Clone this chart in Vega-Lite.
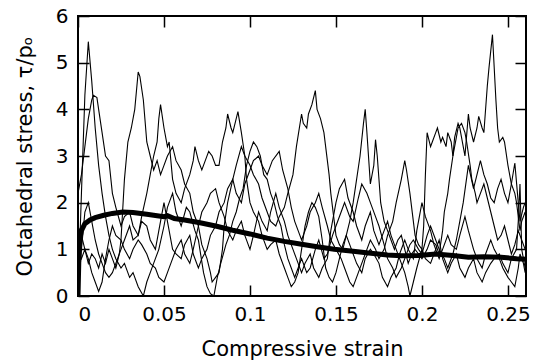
{
"$schema":"https://vega.github.io/schema/vega-lite/v6.json",
"width":448,"height":280,
"autosize":"none",
"padding":{"left":78,"top":16,"right":12,"bottom":67},
"config":{"font":"DejaVu Sans","view":{"stroke":"black","strokeWidth":2},
"axis":{"grid":false,"domain":false,"tickColor":"black","tickWidth":1.5,"tickSize":-11,"labelFont":"DejaVu Sans","labelFontSize":20,"labelColor":"black","titleFont":"DejaVu Sans","titleFontSize":21,"titleFontWeight":"normal","titleColor":"black"}},
"datasets":{
"thin":[
{"s":"a","x":0,"y":0},{"s":"a","x":0.002,"y":2.2},{"s":"a","x":0.004,"y":4.3},{"s":"a","x":0.006,"y":5.45},{"s":"a","x":0.008,"y":4.6},{"s":"a","x":0.01,"y":3.6},{"s":"a","x":0.012,"y":2.8},{"s":"a","x":0.014,"y":2.2},{"s":"a","x":0.016,"y":1.7},{"s":"a","x":0.018,"y":1.3},{"s":"a","x":0.02,"y":1.0},{"s":"a","x":0.022,"y":0.8},{"s":"a","x":0.025,"y":0.6},{"s":"a","x":0.027,"y":0.7},{"s":"a","x":0.03,"y":0.4},{"s":"a","x":0.032,"y":0.5},{"s":"a","x":0.035,"y":0.2},{"s":"a","x":0.038,"y":0.0},{"s":"a","x":0.04,"y":0.3},{"s":"a","x":0.042,"y":0.5},{"s":"a","x":0.045,"y":0.8},{"s":"a","x":0.047,"y":1.0},{"s":"a","x":0.05,"y":1.5},{"s":"a","x":0.052,"y":1.9},{"s":"a","x":0.055,"y":2.2},{"s":"a","x":0.057,"y":1.8},{"s":"a","x":0.06,"y":1.5},{"s":"a","x":0.063,"y":1.9},{"s":"a","x":0.065,"y":1.8},{"s":"a","x":0.068,"y":1.4},{"s":"a","x":0.07,"y":1.2},{"s":"a","x":0.073,"y":0.5},{"s":"a","x":0.075,"y":0.2},{"s":"a","x":0.077,"y":0.05},{"s":"a","x":0.079,"y":0.0},{"s":"a","x":0.081,"y":0.4},{"s":"a","x":0.083,"y":0.7},{"s":"a","x":0.086,"y":1.1},{"s":"a","x":0.088,"y":1.3},{"s":"a","x":0.09,"y":1.6},{"s":"a","x":0.092,"y":1.8},{"s":"a","x":0.094,"y":2.1},{"s":"a","x":0.096,"y":2.3},{"s":"a","x":0.098,"y":2.8},{"s":"a","x":0.1,"y":3.1},{"s":"a","x":0.102,"y":3.3},{"s":"a","x":0.104,"y":3.2},{"s":"a","x":0.106,"y":3.0},{"s":"a","x":0.108,"y":2.6},{"s":"a","x":0.11,"y":2.5},{"s":"a","x":0.112,"y":2.2},{"s":"a","x":0.114,"y":2.0},{"s":"a","x":0.116,"y":1.7},{"s":"a","x":0.118,"y":1.5},{"s":"a","x":0.12,"y":1.1},{"s":"a","x":0.122,"y":0.8},{"s":"a","x":0.124,"y":0.6},{"s":"a","x":0.126,"y":0.4},{"s":"a","x":0.128,"y":0.6},{"s":"a","x":0.13,"y":0.8},{"s":"a","x":0.133,"y":0.5},{"s":"a","x":0.135,"y":0.6},{"s":"a","x":0.138,"y":1.0},{"s":"a","x":0.14,"y":1.2},{"s":"a","x":0.143,"y":0.8},{"s":"a","x":0.145,"y":0.9},{"s":"a","x":0.148,"y":1.3},{"s":"a","x":0.15,"y":1.5},{"s":"a","x":0.153,"y":1.8},{"s":"a","x":0.155,"y":2.0},{"s":"a","x":0.158,"y":1.7},{"s":"a","x":0.16,"y":1.6},{"s":"a","x":0.163,"y":2.1},{"s":"a","x":0.165,"y":2.4},{"s":"a","x":0.168,"y":2.2},{"s":"a","x":0.17,"y":2.0},{"s":"a","x":0.173,"y":1.7},{"s":"a","x":0.175,"y":1.5},{"s":"a","x":0.178,"y":1.1},{"s":"a","x":0.18,"y":0.8},{"s":"a","x":0.183,"y":0.6},{"s":"a","x":0.185,"y":0.4},{"s":"a","x":0.188,"y":0.6},{"s":"a","x":0.19,"y":0.8},{"s":"a","x":0.193,"y":1.1},{"s":"a","x":0.195,"y":1.2},{"s":"a","x":0.198,"y":1.0},{"s":"a","x":0.2,"y":0.9},{"s":"a","x":0.203,"y":1.3},{"s":"a","x":0.205,"y":1.5},{"s":"a","x":0.208,"y":1.2},{"s":"a","x":0.21,"y":1.0},{"s":"a","x":0.213,"y":0.8},{"s":"a","x":0.215,"y":0.6},{"s":"a","x":0.218,"y":0.9},{"s":"a","x":0.22,"y":1.2},{"s":"a","x":0.222,"y":1.6},{"s":"a","x":0.224,"y":2.0},{"s":"a","x":0.227,"y":2.8},{"s":"a","x":0.23,"y":2.3},{"s":"a","x":0.232,"y":2.6},{"s":"a","x":0.234,"y":2.9},{"s":"a","x":0.236,"y":2.6},{"s":"a","x":0.238,"y":2.4},{"s":"a","x":0.24,"y":2.1},{"s":"a","x":0.242,"y":2.0},{"s":"a","x":0.244,"y":2.3},{"s":"a","x":0.246,"y":2.5},{"s":"a","x":0.248,"y":2.2},{"s":"a","x":0.25,"y":2.0},{"s":"a","x":0.252,"y":2.4},{"s":"a","x":0.254,"y":2.85},{"s":"a","x":0.256,"y":2.0},{"s":"a","x":0.257,"y":1.6},{"s":"a","x":0.259,"y":1.9},{"s":"a","x":0.26,"y":2.0},
{"s":"b","x":0,"y":2.2},{"s":"b","x":0.002,"y":2.6},{"s":"b","x":0.004,"y":3.2},{"s":"b","x":0.006,"y":3.8},{"s":"b","x":0.008,"y":4.2},{"s":"b","x":0.009,"y":4.3},{"s":"b","x":0.011,"y":4.25},{"s":"b","x":0.012,"y":4.0},{"s":"b","x":0.014,"y":3.5},{"s":"b","x":0.016,"y":3.0},{"s":"b","x":0.018,"y":2.9},{"s":"b","x":0.02,"y":2.2},{"s":"b","x":0.022,"y":1.9},{"s":"b","x":0.025,"y":1.5},{"s":"b","x":0.027,"y":1.7},{"s":"b","x":0.03,"y":1.8},{"s":"b","x":0.032,"y":1.5},{"s":"b","x":0.035,"y":1.3},{"s":"b","x":0.037,"y":1.6},{"s":"b","x":0.04,"y":1.5},{"s":"b","x":0.042,"y":1.2},{"s":"b","x":0.045,"y":1.0},{"s":"b","x":0.047,"y":1.4},{"s":"b","x":0.05,"y":2.0},{"s":"b","x":0.052,"y":1.6},{"s":"b","x":0.055,"y":1.0},{"s":"b","x":0.057,"y":0.9},{"s":"b","x":0.06,"y":0.8},{"s":"b","x":0.062,"y":1.1},{"s":"b","x":0.065,"y":1.3},{"s":"b","x":0.067,"y":0.9},{"s":"b","x":0.07,"y":0.6},{"s":"b","x":0.072,"y":0.8},{"s":"b","x":0.075,"y":1.0},{"s":"b","x":0.077,"y":1.3},{"s":"b","x":0.08,"y":1.5},{"s":"b","x":0.082,"y":1.8},{"s":"b","x":0.085,"y":2.0},{"s":"b","x":0.087,"y":2.3},{"s":"b","x":0.09,"y":2.5},{"s":"b","x":0.092,"y":2.2},{"s":"b","x":0.095,"y":2.0},{"s":"b","x":0.097,"y":2.4},{"s":"b","x":0.1,"y":2.7},{"s":"b","x":0.102,"y":2.9},{"s":"b","x":0.105,"y":3.0},{"s":"b","x":0.107,"y":2.8},{"s":"b","x":0.11,"y":2.6},{"s":"b","x":0.113,"y":2.9},{"s":"b","x":0.117,"y":3.1},{"s":"b","x":0.119,"y":2.7},{"s":"b","x":0.122,"y":2.3},{"s":"b","x":0.124,"y":1.9},{"s":"b","x":0.126,"y":1.6},{"s":"b","x":0.128,"y":1.4},{"s":"b","x":0.13,"y":1.2},{"s":"b","x":0.133,"y":1.5},{"s":"b","x":0.135,"y":1.8},{"s":"b","x":0.138,"y":2.0},{"s":"b","x":0.14,"y":2.2},{"s":"b","x":0.142,"y":1.9},{"s":"b","x":0.145,"y":1.5},{"s":"b","x":0.147,"y":1.2},{"s":"b","x":0.15,"y":1.0},{"s":"b","x":0.153,"y":0.8},{"s":"b","x":0.155,"y":0.6},{"s":"b","x":0.158,"y":0.3},{"s":"b","x":0.16,"y":0.2},{"s":"b","x":0.163,"y":0.5},{"s":"b","x":0.165,"y":0.7},{"s":"b","x":0.168,"y":1.0},{"s":"b","x":0.17,"y":1.2},{"s":"b","x":0.173,"y":1.0},{"s":"b","x":0.175,"y":0.8},{"s":"b","x":0.178,"y":1.0},{"s":"b","x":0.18,"y":1.3},{"s":"b","x":0.183,"y":1.6},{"s":"b","x":0.185,"y":2.0},{"s":"b","x":0.188,"y":2.5},{"s":"b","x":0.19,"y":2.9},{"s":"b","x":0.191,"y":2.7},{"s":"b","x":0.193,"y":2.2},{"s":"b","x":0.195,"y":1.6},{"s":"b","x":0.196,"y":1.3},{"s":"b","x":0.198,"y":1.1},{"s":"b","x":0.2,"y":1.0},{"s":"b","x":0.201,"y":1.5},{"s":"b","x":0.202,"y":2.6},{"s":"b","x":0.203,"y":3.5},{"s":"b","x":0.205,"y":3.2},{"s":"b","x":0.206,"y":3.3},{"s":"b","x":0.208,"y":3.5},{"s":"b","x":0.209,"y":3.6},{"s":"b","x":0.211,"y":3.3},{"s":"b","x":0.212,"y":3.4},{"s":"b","x":0.214,"y":3.2},{"s":"b","x":0.215,"y":3.5},{"s":"b","x":0.217,"y":3.3},{"s":"b","x":0.218,"y":3.0},{"s":"b","x":0.22,"y":3.4},{"s":"b","x":0.221,"y":3.6},{"s":"b","x":0.223,"y":3.7},{"s":"b","x":0.225,"y":3.5},{"s":"b","x":0.226,"y":3.3},{"s":"b","x":0.228,"y":2.8},{"s":"b","x":0.229,"y":2.5},{"s":"b","x":0.231,"y":2.2},{"s":"b","x":0.232,"y":2.0},{"s":"b","x":0.234,"y":2.2},{"s":"b","x":0.236,"y":2.4},{"s":"b","x":0.238,"y":2.1},{"s":"b","x":0.24,"y":1.8},{"s":"b","x":0.242,"y":1.5},{"s":"b","x":0.244,"y":1.2},{"s":"b","x":0.246,"y":1.3},{"s":"b","x":0.248,"y":1.5},{"s":"b","x":0.25,"y":1.2},{"s":"b","x":0.252,"y":0.9},{"s":"b","x":0.254,"y":1.1},{"s":"b","x":0.256,"y":1.4},{"s":"b","x":0.258,"y":1.2},{"s":"b","x":0.26,"y":1.0},
{"s":"c","x":0,"y":1.0},{"s":"c","x":0.002,"y":0.8},{"s":"c","x":0.004,"y":1.0},{"s":"c","x":0.006,"y":0.7},{"s":"c","x":0.008,"y":0.9},{"s":"c","x":0.01,"y":0.8},{"s":"c","x":0.012,"y":0.6},{"s":"c","x":0.014,"y":0.9},{"s":"c","x":0.016,"y":0.7},{"s":"c","x":0.018,"y":1.0},{"s":"c","x":0.02,"y":0.8},{"s":"c","x":0.022,"y":0.6},{"s":"c","x":0.024,"y":0.9},{"s":"c","x":0.025,"y":1.2},{"s":"c","x":0.027,"y":2.5},{"s":"c","x":0.029,"y":3.3},{"s":"c","x":0.031,"y":3.6},{"s":"c","x":0.033,"y":4.0},{"s":"c","x":0.035,"y":4.8},{"s":"c","x":0.036,"y":4.7},{"s":"c","x":0.038,"y":4.2},{"s":"c","x":0.04,"y":3.3},{"s":"c","x":0.042,"y":3.0},{"s":"c","x":0.044,"y":2.7},{"s":"c","x":0.046,"y":2.9},{"s":"c","x":0.048,"y":2.6},{"s":"c","x":0.05,"y":2.8},{"s":"c","x":0.052,"y":3.0},{"s":"c","x":0.055,"y":3.2},{"s":"c","x":0.057,"y":2.9},{"s":"c","x":0.06,"y":2.7},{"s":"c","x":0.062,"y":2.4},{"s":"c","x":0.065,"y":2.2},{"s":"c","x":0.067,"y":1.8},{"s":"c","x":0.07,"y":1.5},{"s":"c","x":0.072,"y":1.1},{"s":"c","x":0.075,"y":0.8},{"s":"c","x":0.077,"y":0.5},{"s":"c","x":0.078,"y":0.3},{"s":"c","x":0.08,"y":0.4},{"s":"c","x":0.082,"y":0.5},{"s":"c","x":0.084,"y":1.0},{"s":"c","x":0.085,"y":1.5},{"s":"c","x":0.087,"y":2.0},{"s":"c","x":0.09,"y":2.5},{"s":"c","x":0.092,"y":2.8},{"s":"c","x":0.095,"y":3.2},{"s":"c","x":0.097,"y":3.0},{"s":"c","x":0.1,"y":2.8},{"s":"c","x":0.102,"y":2.6},{"s":"c","x":0.105,"y":2.4},{"s":"c","x":0.107,"y":2.1},{"s":"c","x":0.11,"y":1.8},{"s":"c","x":0.112,"y":1.6},{"s":"c","x":0.115,"y":1.5},{"s":"c","x":0.117,"y":1.7},{"s":"c","x":0.12,"y":1.9},{"s":"c","x":0.122,"y":2.2},{"s":"c","x":0.125,"y":2.6},{"s":"c","x":0.127,"y":3.2},{"s":"c","x":0.13,"y":3.9},{"s":"c","x":0.131,"y":3.7},{"s":"c","x":0.133,"y":3.6},{"s":"c","x":0.134,"y":3.9},{"s":"c","x":0.136,"y":4.1},{"s":"c","x":0.138,"y":4.4},{"s":"c","x":0.139,"y":4.0},{"s":"c","x":0.141,"y":3.8},{"s":"c","x":0.143,"y":3.5},{"s":"c","x":0.144,"y":3.2},{"s":"c","x":0.146,"y":2.6},{"s":"c","x":0.147,"y":2.2},{"s":"c","x":0.149,"y":1.6},{"s":"c","x":0.15,"y":1.3},{"s":"c","x":0.152,"y":1.1},{"s":"c","x":0.154,"y":1.0},{"s":"c","x":0.156,"y":1.3},{"s":"c","x":0.158,"y":1.6},{"s":"c","x":0.16,"y":2.0},{"s":"c","x":0.162,"y":2.5},{"s":"c","x":0.164,"y":3.0},{"s":"c","x":0.166,"y":3.7},{"s":"c","x":0.167,"y":4.0},{"s":"c","x":0.168,"y":3.5},{"s":"c","x":0.17,"y":2.4},{"s":"c","x":0.172,"y":2.8},{"s":"c","x":0.173,"y":3.35},{"s":"c","x":0.174,"y":3.0},{"s":"c","x":0.176,"y":2.0},{"s":"c","x":0.178,"y":1.6},{"s":"c","x":0.18,"y":1.4},{"s":"c","x":0.182,"y":1.2},{"s":"c","x":0.184,"y":1.0},{"s":"c","x":0.186,"y":1.2},{"s":"c","x":0.188,"y":1.3},{"s":"c","x":0.19,"y":1.0},{"s":"c","x":0.192,"y":0.7},{"s":"c","x":0.194,"y":0.9},{"s":"c","x":0.196,"y":1.0},{"s":"c","x":0.198,"y":0.9},{"s":"c","x":0.2,"y":0.8},{"s":"c","x":0.203,"y":1.0},{"s":"c","x":0.205,"y":1.2},{"s":"c","x":0.208,"y":1.1},{"s":"c","x":0.21,"y":0.9},{"s":"c","x":0.212,"y":1.4},{"s":"c","x":0.213,"y":1.8},{"s":"c","x":0.215,"y":2.2},{"s":"c","x":0.216,"y":2.5},{"s":"c","x":0.218,"y":3.0},{"s":"c","x":0.219,"y":3.4},{"s":"c","x":0.221,"y":3.7},{"s":"c","x":0.222,"y":3.6},{"s":"c","x":0.224,"y":3.2},{"s":"c","x":0.225,"y":3.0},{"s":"c","x":0.227,"y":3.9},{"s":"c","x":0.228,"y":3.6},{"s":"c","x":0.23,"y":3.3},{"s":"c","x":0.232,"y":3.6},{"s":"c","x":0.233,"y":3.85},{"s":"c","x":0.235,"y":3.6},{"s":"c","x":0.236,"y":3.5},{"s":"c","x":0.237,"y":4.0},{"s":"c","x":0.238,"y":4.5},{"s":"c","x":0.239,"y":4.9},{"s":"c","x":0.241,"y":5.6},{"s":"c","x":0.242,"y":4.9},{"s":"c","x":0.243,"y":4.2},{"s":"c","x":0.244,"y":3.6},{"s":"c","x":0.245,"y":3.3},{"s":"c","x":0.247,"y":3.4},{"s":"c","x":0.248,"y":3.3},{"s":"c","x":0.25,"y":2.8},{"s":"c","x":0.252,"y":2.4},{"s":"c","x":0.254,"y":2.2},{"s":"c","x":0.255,"y":2.0},{"s":"c","x":0.257,"y":1.4},{"s":"c","x":0.258,"y":1.6},{"s":"c","x":0.26,"y":1.8},
{"s":"d","x":0,"y":0.0},{"s":"d","x":0.002,"y":1.0},{"s":"d","x":0.004,"y":1.8},{"s":"d","x":0.006,"y":2.0},{"s":"d","x":0.008,"y":1.6},{"s":"d","x":0.01,"y":1.2},{"s":"d","x":0.012,"y":0.9},{"s":"d","x":0.014,"y":0.7},{"s":"d","x":0.016,"y":0.5},{"s":"d","x":0.018,"y":0.4},{"s":"d","x":0.02,"y":0.5},{"s":"d","x":0.022,"y":0.7},{"s":"d","x":0.025,"y":1.0},{"s":"d","x":0.027,"y":1.2},{"s":"d","x":0.03,"y":1.5},{"s":"d","x":0.032,"y":1.2},{"s":"d","x":0.035,"y":1.3},{"s":"d","x":0.037,"y":1.7},{"s":"d","x":0.04,"y":2.2},{"s":"d","x":0.042,"y":2.6},{"s":"d","x":0.044,"y":3.0},{"s":"d","x":0.046,"y":3.3},{"s":"d","x":0.047,"y":3.8},{"s":"d","x":0.048,"y":4.1},{"s":"d","x":0.05,"y":3.6},{"s":"d","x":0.052,"y":3.2},{"s":"d","x":0.053,"y":3.3},{"s":"d","x":0.055,"y":2.5},{"s":"d","x":0.057,"y":2.2},{"s":"d","x":0.06,"y":2.0},{"s":"d","x":0.062,"y":2.3},{"s":"d","x":0.065,"y":2.6},{"s":"d","x":0.067,"y":2.9},{"s":"d","x":0.068,"y":3.2},{"s":"d","x":0.07,"y":2.9},{"s":"d","x":0.072,"y":2.7},{"s":"d","x":0.074,"y":2.9},{"s":"d","x":0.076,"y":3.1},{"s":"d","x":0.078,"y":3.0},{"s":"d","x":0.08,"y":2.8},{"s":"d","x":0.082,"y":2.8},{"s":"d","x":0.084,"y":3.3},{"s":"d","x":0.086,"y":3.6},{"s":"d","x":0.087,"y":3.9},{"s":"d","x":0.089,"y":3.6},{"s":"d","x":0.09,"y":3.5},{"s":"d","x":0.092,"y":3.8},{"s":"d","x":0.093,"y":3.95},{"s":"d","x":0.095,"y":3.5},{"s":"d","x":0.097,"y":3.0},{"s":"d","x":0.098,"y":2.5},{"s":"d","x":0.1,"y":2.0},{"s":"d","x":0.102,"y":1.8},{"s":"d","x":0.105,"y":1.6},{"s":"d","x":0.107,"y":1.3},{"s":"d","x":0.11,"y":1.0},{"s":"d","x":0.112,"y":1.1},{"s":"d","x":0.115,"y":1.2},{"s":"d","x":0.117,"y":0.9},{"s":"d","x":0.12,"y":0.6},{"s":"d","x":0.122,"y":0.4},{"s":"d","x":0.124,"y":0.2},{"s":"d","x":0.126,"y":0.3},{"s":"d","x":0.128,"y":0.5},{"s":"d","x":0.13,"y":1.0},{"s":"d","x":0.132,"y":1.5},{"s":"d","x":0.134,"y":1.8},{"s":"d","x":0.136,"y":2.0},{"s":"d","x":0.138,"y":1.9},{"s":"d","x":0.14,"y":1.7},{"s":"d","x":0.142,"y":1.2},{"s":"d","x":0.144,"y":0.6},{"s":"d","x":0.146,"y":0.4},{"s":"d","x":0.148,"y":0.3},{"s":"d","x":0.15,"y":0.5},{"s":"d","x":0.152,"y":0.8},{"s":"d","x":0.154,"y":1.1},{"s":"d","x":0.156,"y":1.3},{"s":"d","x":0.158,"y":1.1},{"s":"d","x":0.16,"y":0.9},{"s":"d","x":0.162,"y":0.7},{"s":"d","x":0.165,"y":0.5},{"s":"d","x":0.167,"y":0.8},{"s":"d","x":0.17,"y":1.0},{"s":"d","x":0.172,"y":0.9},{"s":"d","x":0.175,"y":0.7},{"s":"d","x":0.177,"y":0.4},{"s":"d","x":0.18,"y":0.2},{"s":"d","x":0.182,"y":0.4},{"s":"d","x":0.185,"y":0.6},{"s":"d","x":0.187,"y":0.9},{"s":"d","x":0.19,"y":1.2},{"s":"d","x":0.192,"y":1.0},{"s":"d","x":0.195,"y":0.8},{"s":"d","x":0.197,"y":1.4},{"s":"d","x":0.2,"y":2.0},{"s":"d","x":0.202,"y":1.7},{"s":"d","x":0.205,"y":1.4},{"s":"d","x":0.207,"y":1.1},{"s":"d","x":0.21,"y":0.8},{"s":"d","x":0.212,"y":1.0},{"s":"d","x":0.215,"y":1.3},{"s":"d","x":0.217,"y":1.1},{"s":"d","x":0.22,"y":1.0},{"s":"d","x":0.222,"y":1.3},{"s":"d","x":0.225,"y":1.7},{"s":"d","x":0.227,"y":1.4},{"s":"d","x":0.23,"y":1.0},{"s":"d","x":0.232,"y":0.8},{"s":"d","x":0.235,"y":0.6},{"s":"d","x":0.237,"y":0.9},{"s":"d","x":0.24,"y":1.2},{"s":"d","x":0.242,"y":1.0},{"s":"d","x":0.245,"y":0.8},{"s":"d","x":0.247,"y":0.6},{"s":"d","x":0.25,"y":0.4},{"s":"d","x":0.252,"y":0.3},{"s":"d","x":0.254,"y":0.2},{"s":"d","x":0.256,"y":0.6},{"s":"d","x":0.257,"y":0.9},{"s":"d","x":0.259,"y":0.7},{"s":"d","x":0.26,"y":0.5},
{"s":"e","x":0,"y":1.5},{"s":"e","x":0.002,"y":1.3},{"s":"e","x":0.004,"y":1.0},{"s":"e","x":0.006,"y":0.8},{"s":"e","x":0.008,"y":0.5},{"s":"e","x":0.01,"y":0.3},{"s":"e","x":0.012,"y":0.1},{"s":"e","x":0.014,"y":0.3},{"s":"e","x":0.016,"y":0.8},{"s":"e","x":0.018,"y":1.2},{"s":"e","x":0.02,"y":1.5},{"s":"e","x":0.022,"y":1.3},{"s":"e","x":0.025,"y":1.2},{"s":"e","x":0.027,"y":1.0},{"s":"e","x":0.03,"y":0.8},{"s":"e","x":0.032,"y":1.0},{"s":"e","x":0.035,"y":1.2},{"s":"e","x":0.037,"y":1.1},{"s":"e","x":0.04,"y":0.9},{"s":"e","x":0.042,"y":0.7},{"s":"e","x":0.045,"y":0.6},{"s":"e","x":0.047,"y":0.4},{"s":"e","x":0.05,"y":0.3},{"s":"e","x":0.052,"y":0.5},{"s":"e","x":0.055,"y":0.8},{"s":"e","x":0.057,"y":1.0},{"s":"e","x":0.06,"y":1.2},{"s":"e","x":0.062,"y":0.9},{"s":"e","x":0.065,"y":0.7},{"s":"e","x":0.067,"y":1.0},{"s":"e","x":0.07,"y":1.5},{"s":"e","x":0.072,"y":1.8},{"s":"e","x":0.075,"y":2.0},{"s":"e","x":0.077,"y":2.2},{"s":"e","x":0.08,"y":2.3},{"s":"e","x":0.082,"y":2.0},{"s":"e","x":0.085,"y":1.7},{"s":"e","x":0.087,"y":1.4},{"s":"e","x":0.09,"y":1.2},{"s":"e","x":0.092,"y":1.4},{"s":"e","x":0.095,"y":1.6},{"s":"e","x":0.097,"y":1.3},{"s":"e","x":0.1,"y":1.0},{"s":"e","x":0.102,"y":1.3},{"s":"e","x":0.105,"y":1.8},{"s":"e","x":0.107,"y":1.6},{"s":"e","x":0.11,"y":1.4},{"s":"e","x":0.112,"y":1.8},{"s":"e","x":0.115,"y":2.2},{"s":"e","x":0.117,"y":1.9},{"s":"e","x":0.12,"y":1.6},{"s":"e","x":0.122,"y":1.3},{"s":"e","x":0.125,"y":1.0},{"s":"e","x":0.127,"y":0.8},{"s":"e","x":0.13,"y":0.5},{"s":"e","x":0.132,"y":0.7},{"s":"e","x":0.135,"y":0.9},{"s":"e","x":0.137,"y":0.6},{"s":"e","x":0.14,"y":0.4},{"s":"e","x":0.142,"y":0.6},{"s":"e","x":0.145,"y":0.8},{"s":"e","x":0.147,"y":1.4},{"s":"e","x":0.15,"y":2.0},{"s":"e","x":0.152,"y":2.3},{"s":"e","x":0.155,"y":2.5},{"s":"e","x":0.157,"y":2.1},{"s":"e","x":0.16,"y":1.8},{"s":"e","x":0.162,"y":1.5},{"s":"e","x":0.165,"y":1.2},{"s":"e","x":0.167,"y":1.5},{"s":"e","x":0.17,"y":1.8},{"s":"e","x":0.172,"y":1.4},{"s":"e","x":0.175,"y":1.1},{"s":"e","x":0.177,"y":1.3},{"s":"e","x":0.18,"y":1.6},{"s":"e","x":0.182,"y":1.3},{"s":"e","x":0.185,"y":1.0},{"s":"e","x":0.187,"y":0.8},{"s":"e","x":0.19,"y":0.5},{"s":"e","x":0.192,"y":0.2},{"s":"e","x":0.193,"y":0.0},{"s":"e","x":0.195,"y":0.3},{"s":"e","x":0.197,"y":0.6},{"s":"e","x":0.2,"y":1.0},{"s":"e","x":0.202,"y":0.8},{"s":"e","x":0.205,"y":0.7},{"s":"e","x":0.207,"y":0.9},{"s":"e","x":0.21,"y":1.2},{"s":"e","x":0.212,"y":0.8},{"s":"e","x":0.215,"y":0.5},{"s":"e","x":0.217,"y":0.7},{"s":"e","x":0.22,"y":0.9},{"s":"e","x":0.222,"y":0.6},{"s":"e","x":0.225,"y":0.4},{"s":"e","x":0.227,"y":0.6},{"s":"e","x":0.23,"y":0.8},{"s":"e","x":0.232,"y":0.5},{"s":"e","x":0.235,"y":0.3},{"s":"e","x":0.237,"y":0.5},{"s":"e","x":0.24,"y":0.7},{"s":"e","x":0.242,"y":0.8},{"s":"e","x":0.245,"y":0.9},{"s":"e","x":0.247,"y":0.7},{"s":"e","x":0.25,"y":0.5},{"s":"e","x":0.252,"y":0.8},{"s":"e","x":0.255,"y":1.0},{"s":"e","x":0.256,"y":1.6},{"s":"e","x":0.257,"y":2.4},{"s":"e","x":0.258,"y":1.0},{"s":"e","x":0.26,"y":0.6}
],
"mean":[
{"x":0,"y":0},{"x":0.0005,"y":0.8},{"x":0.001,"y":1.2},{"x":0.002,"y":1.4},{"x":0.004,"y":1.55},{"x":0.007,"y":1.63},{"x":0.01,"y":1.68},{"x":0.015,"y":1.73},{"x":0.02,"y":1.77},{"x":0.026,"y":1.8},{"x":0.032,"y":1.79},{"x":0.04,"y":1.75},{"x":0.046,"y":1.72},{"x":0.05,"y":1.7},{"x":0.052,"y":1.72},{"x":0.056,"y":1.66},{"x":0.062,"y":1.63},{"x":0.071,"y":1.57},{"x":0.08,"y":1.5},{"x":0.09,"y":1.41},{"x":0.1,"y":1.33},{"x":0.11,"y":1.24},{"x":0.12,"y":1.17},{"x":0.13,"y":1.11},{"x":0.14,"y":1.05},{"x":0.149,"y":1.0},{"x":0.16,"y":0.96},{"x":0.169,"y":0.92},{"x":0.18,"y":0.88},{"x":0.188,"y":0.86},{"x":0.198,"y":0.87},{"x":0.208,"y":0.9},{"x":0.218,"y":0.87},{"x":0.227,"y":0.83},{"x":0.236,"y":0.84},{"x":0.246,"y":0.83},{"x":0.255,"y":0.8},{"x":0.2605,"y":0.79}
]},
"layer":[
{"data":{"name":"thin"},"mark":{"type":"line","color":"black","strokeWidth":1.1,"clip":true},
"encoding":{"x":{"field":"x","type":"quantitative","scale":{"domain":[0,0.2605],"nice":false,"zero":false},"axis":{"values":[0,0.05,0.1,0.15,0.2,0.25],"format":"~g","labelPadding":19,"title":"Compressive strain","titlePadding":14}},
"y":{"field":"y","type":"quantitative","scale":{"domain":[0,6],"nice":false},"axis":{"values":[0,1,2,3,4,5,6],"labelPadding":21,"title":"Octahedral stress, τ/pₒ","titlePadding":20}},
"detail":{"field":"s"}}},
{"data":{"name":"mean"},"mark":{"type":"line","color":"black","strokeWidth":5,"clip":true},
"encoding":{"x":{"field":"x","type":"quantitative","axis":{"orient":"top","values":[0,0.05,0.1,0.15,0.2,0.25],"labels":false,"title":null}},
"y":{"field":"y","type":"quantitative","axis":{"orient":"right","values":[0,1,2,3,4,5,6],"labels":false,"title":null}}}}
],
"resolve":{"axis":{"x":"independent","y":"independent"}}
}
